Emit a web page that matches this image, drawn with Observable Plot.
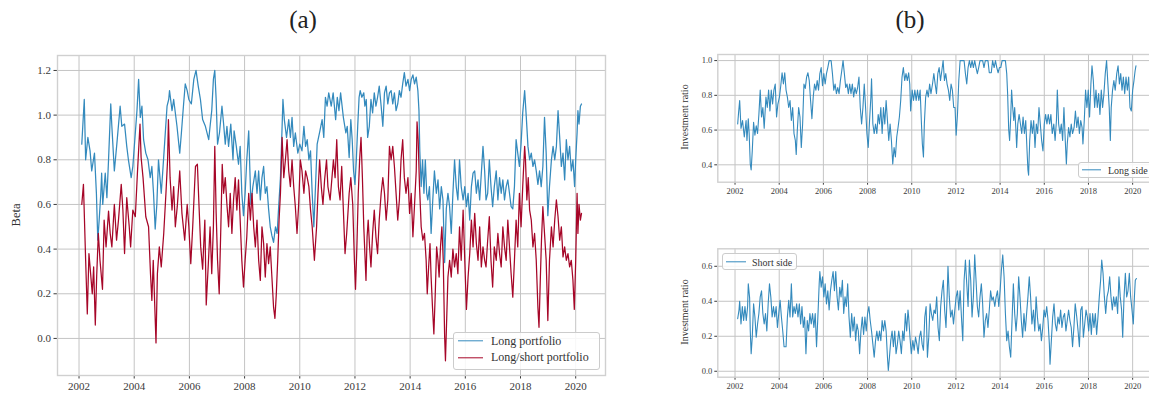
<!DOCTYPE html>
<html>
<head>
<meta charset="utf-8">
<script src="https://cdn.jsdelivr.net/npm/d3@7"></script>
<script src="https://cdn.jsdelivr.net/npm/@observablehq/plot@0.6"></script>
<style>
  html, body { margin: 0; padding: 0; background: #fff; }
  body { width: 1149px; height: 394px; overflow: hidden; position: relative; font-family: "Liberation Serif", serif; color: #333; }
  .abs { position: absolute; }
  .title { font-size: 25px; transform: translate(-50%, -50%); white-space: nowrap; color: #222; }
  .ylab { transform: translate(-50%, -50%) rotate(-90deg); white-space: nowrap; }
  .legend { border: 1px solid #cccccc; border-radius: 3px; background: rgba(255,255,255,0.85); box-sizing: border-box; }
  .swatch { height: 1.4px; transform: translateY(-50%); }
  .ltext { white-space: nowrap; transform: translateY(-50%); }
</style>
</head>
<body>
<div class="abs title" style="left:303px; top:20px;">(a)</div>
<div class="abs title" style="left:910px; top:20px;">(b)</div>
<div id="pa"></div>
<div id="pb1"></div>
<div id="pb2"></div>
<div class="abs ylab" style="left:16px; top:215px; font-size:12.5px;">Beta</div>
<div class="abs ylab" style="left:684px; top:117px; font-size:10px;">Investment ratio</div>
<div class="abs ylab" style="left:684px; top:312px; font-size:10px;">Investment ratio</div>

<div class="abs legend" style="left:453px; top:332px; width:147px; height:38px;"></div>
<div class="abs swatch" style="left:458px; top:341px; width:25px; background:#348ABD;"></div>
<div class="abs ltext" style="left:491px; top:341px; font-size:12px;">Long portfolio</div>
<div class="abs swatch" style="left:458px; top:357.5px; width:25px; background:#A60628;"></div>
<div class="abs ltext" style="left:491px; top:357px; font-size:12px;">Long/short portfolio</div>

<div class="abs legend" style="left:1078px; top:162px; width:76px; height:16px;"></div>
<div class="abs swatch" style="left:1082px; top:169.5px; width:19px; background:#348ABD;"></div>
<div class="abs ltext" style="left:1108px; top:169.5px; font-size:10px;">Long side</div>

<div class="abs legend" style="left:722px; top:253px; width:75px; height:17px;"></div>
<div class="abs swatch" style="left:726px; top:261.5px; width:20px; background:#348ABD;"></div>
<div class="abs ltext" style="left:752px; top:261.5px; font-size:10px;">Short side</div>

<script>
// ---------- data ----------
const xTicks = [2002, 2004, 2006, 2008, 2010, 2012, 2014, 2016, 2018, 2020];
const betaTicks = [0, 0.2, 0.4, 0.6, 0.8, 1.0, 1.2];
const longSideTicks = [0.4, 0.6, 0.8, 1.0];
const shortSideTicks = [0, 0.2, 0.4, 0.6];

// (a) Beta of the long portfolio: [year, beta]
const longPortfolio = [[2002.10,0.87],[2002.19,1.07],[2002.24,0.80],[2002.32,0.90],[2002.40,0.84],[2002.46,0.75],[2002.56,0.83],[2002.63,0.65],[2002.68,0.44],[2002.73,0.53],[2002.79,0.65],[2002.82,0.74],[2002.86,0.60],[2002.95,0.74],[2003.01,0.63],[2003.07,0.80],[2003.15,1.05],[2003.19,0.95],[2003.28,0.75],[2003.37,0.87],[2003.49,1.04],[2003.55,0.95],[2003.65,0.96],[2003.73,0.86],[2003.79,0.80],[2003.89,0.72],[2003.95,0.77],[2004.04,0.92],[2004.10,1.02],[2004.16,1.16],[2004.22,0.99],[2004.28,1.04],[2004.34,0.89],[2004.42,0.83],[2004.50,0.80],[2004.58,0.72],[2004.64,0.77],[2004.70,0.65],[2004.76,0.49],[2004.82,0.60],[2004.88,0.80],[2004.98,0.65],[2005.03,0.74],[2005.10,0.87],[2005.19,1.04],[2005.25,1.07],[2005.28,1.11],[2005.37,1.02],[2005.43,1.07],[2005.55,0.95],[2005.65,0.83],[2005.71,0.92],[2005.79,1.05],[2005.85,1.14],[2005.92,1.11],[2005.98,1.07],[2006.07,1.05],[2006.16,1.16],[2006.24,1.20],[2006.32,1.13],[2006.40,1.07],[2006.48,0.98],[2006.58,0.95],[2006.70,0.89],[2006.75,0.95],[2006.81,1.02],[2006.87,1.16],[2006.92,1.20],[2006.97,1.07],[2007.02,0.87],[2007.09,0.92],[2007.18,1.04],[2007.24,0.96],[2007.30,0.87],[2007.36,0.95],[2007.42,0.86],[2007.50,0.96],[2007.58,0.80],[2007.62,0.93],[2007.70,0.86],[2007.78,0.78],[2007.84,0.86],[2007.90,0.65],[2007.96,0.55],[2008.02,0.65],[2008.08,0.80],[2008.15,0.93],[2008.18,0.80],[2008.23,0.60],[2008.30,0.68],[2008.39,0.75],[2008.45,0.65],[2008.51,0.75],[2008.57,0.62],[2008.63,0.72],[2008.69,0.77],[2008.75,0.65],[2008.81,0.68],[2008.87,0.58],[2008.93,0.50],[2008.99,0.46],[2009.05,0.43],[2009.12,0.50],[2009.18,0.47],[2009.24,0.60],[2009.30,0.72],[2009.36,0.95],[2009.39,1.07],[2009.44,0.98],[2009.52,0.90],[2009.60,0.98],[2009.66,0.90],[2009.72,0.99],[2009.78,0.86],[2009.84,0.92],[2009.93,0.83],[2010.00,0.87],[2010.08,0.84],[2010.15,0.95],[2010.21,0.86],[2010.27,0.89],[2010.33,0.80],[2010.39,0.84],[2010.45,0.65],[2010.51,0.50],[2010.57,0.68],[2010.63,0.87],[2010.73,0.93],[2010.81,0.98],[2010.87,0.90],[2010.93,1.08],[2010.99,1.04],[2011.05,1.10],[2011.14,1.04],[2011.21,1.10],[2011.30,0.98],[2011.36,1.08],[2011.42,1.02],[2011.48,1.10],[2011.58,0.99],[2011.67,0.92],[2011.72,0.95],[2011.79,0.81],[2011.85,0.98],[2011.90,0.89],[2011.95,0.75],[2012.00,0.69],[2012.05,0.80],[2012.10,0.95],[2012.15,1.08],[2012.19,1.11],[2012.25,1.08],[2012.32,1.10],[2012.36,1.04],[2012.41,1.07],[2012.46,0.90],[2012.52,0.95],[2012.58,1.07],[2012.64,1.01],[2012.70,1.10],[2012.76,1.04],[2012.82,1.08],[2012.88,1.13],[2012.95,1.04],[2013.01,0.95],[2013.07,1.10],[2013.13,1.13],[2013.19,1.05],[2013.25,1.10],[2013.31,1.11],[2013.37,1.05],[2013.43,1.10],[2013.49,1.02],[2013.55,1.05],[2013.61,1.11],[2013.67,1.08],[2013.73,1.14],[2013.79,1.19],[2013.85,1.13],[2013.92,1.16],[2013.98,1.11],[2014.04,1.16],[2014.10,1.18],[2014.16,1.14],[2014.22,1.17],[2014.28,1.11],[2014.32,1.02],[2014.35,0.84],[2014.40,0.68],[2014.45,0.80],[2014.50,0.65],[2014.55,0.80],[2014.60,0.65],[2014.64,0.62],[2014.70,0.68],[2014.76,0.47],[2014.82,0.62],[2014.88,0.75],[2014.95,0.65],[2015.01,0.71],[2015.07,0.58],[2015.13,0.68],[2015.19,0.62],[2015.25,0.34],[2015.31,0.58],[2015.37,0.65],[2015.43,0.59],[2015.49,0.47],[2015.55,0.65],[2015.61,0.80],[2015.67,0.68],[2015.73,0.62],[2015.79,0.80],[2015.85,0.68],[2015.92,0.62],[2015.98,0.68],[2016.04,0.59],[2016.10,0.65],[2016.16,0.53],[2016.22,0.68],[2016.28,0.74],[2016.34,0.75],[2016.40,0.65],[2016.46,0.71],[2016.52,0.62],[2016.58,0.74],[2016.64,0.86],[2016.70,0.75],[2016.75,0.62],[2016.81,0.65],[2016.87,0.80],[2016.93,0.68],[2016.99,0.59],[2017.05,0.68],[2017.12,0.75],[2017.18,0.62],[2017.24,0.72],[2017.30,0.65],[2017.36,0.71],[2017.42,0.62],[2017.48,0.68],[2017.54,0.71],[2017.60,0.65],[2017.66,0.59],[2017.72,0.58],[2017.78,0.68],[2017.84,0.89],[2017.90,0.83],[2017.96,0.77],[2018.02,0.87],[2018.08,1.01],[2018.15,1.11],[2018.21,0.99],[2018.27,0.86],[2018.33,0.80],[2018.39,0.83],[2018.45,0.77],[2018.51,0.80],[2018.57,0.75],[2018.63,0.69],[2018.69,0.75],[2018.75,0.68],[2018.81,0.77],[2018.87,0.99],[2018.93,0.83],[2018.99,0.55],[2019.05,0.68],[2019.12,0.80],[2019.18,0.86],[2019.24,0.80],[2019.30,0.86],[2019.36,1.02],[2019.42,0.90],[2019.48,0.77],[2019.54,0.83],[2019.60,0.71],[2019.66,0.89],[2019.72,0.80],[2019.78,0.86],[2019.84,0.75],[2019.90,0.80],[2019.96,0.68],[2020.00,0.80],[2020.05,0.92],[2020.08,1.02],[2020.12,0.96],[2020.17,1.04],[2020.21,1.05]];

// (a) Beta of the long/short portfolio: [year, beta]
const longShortPortfolio = [[2002.10,0.60],[2002.16,0.69],[2002.24,0.35],[2002.30,0.11],[2002.36,0.38],[2002.42,0.29],[2002.48,0.20],[2002.53,0.32],[2002.59,0.06],[2002.64,0.28],[2002.70,0.47],[2002.76,0.35],[2002.85,0.22],[2002.91,0.53],[2002.98,0.41],[2003.07,0.57],[2003.13,0.47],[2003.19,0.41],[2003.28,0.60],[2003.36,0.44],[2003.43,0.53],[2003.53,0.69],[2003.59,0.575],[2003.65,0.38],[2003.73,0.63],[2003.82,0.50],[2003.87,0.41],[2003.95,0.575],[2004.04,0.545],[2004.12,0.75],[2004.21,0.96],[2004.25,0.81],[2004.32,0.72],[2004.42,0.545],[2004.52,0.50],[2004.59,0.29],[2004.64,0.17],[2004.69,0.35],[2004.79,-0.02],[2004.84,0.29],[2004.91,0.41],[2004.98,0.32],[2005.07,0.47],[2005.15,0.65],[2005.21,0.80],[2005.24,0.98],[2005.30,0.72],[2005.37,0.575],[2005.43,0.68],[2005.49,0.50],[2005.56,0.59],[2005.65,0.75],[2005.73,0.56],[2005.83,0.44],[2005.92,0.60],[2005.98,0.50],[2006.05,0.335],[2006.12,0.50],[2006.22,0.77],[2006.29,0.78],[2006.34,0.62],[2006.41,0.41],[2006.48,0.31],[2006.56,0.53],[2006.61,0.15],[2006.68,0.32],[2006.75,0.50],[2006.81,0.29],[2006.87,0.50],[2006.92,0.86],[2006.97,0.56],[2007.02,0.35],[2007.08,0.20],[2007.14,0.50],[2007.19,0.78],[2007.24,0.65],[2007.30,0.72],[2007.36,0.60],[2007.42,0.50],[2007.48,0.65],[2007.54,0.47],[2007.60,0.62],[2007.66,0.72],[2007.72,0.575],[2007.78,0.71],[2007.84,0.53],[2007.90,0.35],[2007.96,0.23],[2008.02,0.35],[2008.08,0.455],[2008.15,0.65],[2008.21,0.53],[2008.27,0.65],[2008.33,0.50],[2008.39,0.41],[2008.45,0.53],[2008.51,0.35],[2008.57,0.26],[2008.63,0.50],[2008.69,0.425],[2008.75,0.275],[2008.81,0.425],[2008.87,0.335],[2008.93,0.41],[2008.99,0.275],[2009.05,0.14],[2009.10,0.09],[2009.15,0.20],[2009.20,0.35],[2009.25,0.53],[2009.30,0.65],[2009.36,0.90],[2009.42,0.72],[2009.48,0.80],[2009.54,0.89],[2009.60,0.75],[2009.66,0.68],[2009.72,0.80],[2009.78,0.68],[2009.84,0.59],[2009.90,0.47],[2009.96,0.60],[2010.02,0.80],[2010.08,0.75],[2010.15,0.65],[2010.21,0.75],[2010.27,0.72],[2010.33,0.68],[2010.39,0.575],[2010.45,0.50],[2010.53,0.35],[2010.61,0.50],[2010.66,0.65],[2010.72,0.80],[2010.78,0.68],[2010.84,0.60],[2010.90,0.71],[2010.97,0.80],[2011.02,0.68],[2011.10,0.62],[2011.16,0.71],[2011.22,0.80],[2011.28,0.72],[2011.34,0.89],[2011.40,0.68],[2011.46,0.62],[2011.52,0.77],[2011.58,0.575],[2011.64,0.38],[2011.70,0.47],[2011.79,0.65],[2011.85,0.72],[2011.92,0.60],[2011.98,0.35],[2012.02,0.22],[2012.07,0.41],[2012.12,0.65],[2012.17,0.80],[2012.22,0.90],[2012.27,0.72],[2012.32,0.50],[2012.36,0.38],[2012.40,0.26],[2012.44,0.455],[2012.48,0.53],[2012.53,0.41],[2012.58,0.32],[2012.64,0.47],[2012.70,0.575],[2012.76,0.455],[2012.82,0.38],[2012.88,0.53],[2012.95,0.65],[2013.01,0.72],[2013.07,0.65],[2013.13,0.53],[2013.19,0.62],[2013.25,0.86],[2013.31,0.80],[2013.37,0.86],[2013.43,0.77],[2013.49,0.65],[2013.55,0.53],[2013.61,0.62],[2013.67,0.80],[2013.73,0.89],[2013.79,0.72],[2013.85,0.65],[2013.92,0.72],[2013.98,0.56],[2014.04,0.65],[2014.10,0.455],[2014.16,0.60],[2014.22,0.75],[2014.25,0.97],[2014.29,0.89],[2014.34,0.68],[2014.40,0.50],[2014.46,0.44],[2014.52,0.47],[2014.58,0.35],[2014.62,0.20],[2014.67,0.32],[2014.72,0.425],[2014.76,0.275],[2014.81,0.14],[2014.86,0.02],[2014.91,0.20],[2014.96,0.41],[2015.01,0.35],[2015.05,0.275],[2015.10,0.41],[2015.15,0.50],[2015.20,0.35],[2015.25,0.01],[2015.28,-0.10],[2015.33,0.11],[2015.37,0.275],[2015.43,0.35],[2015.49,0.275],[2015.55,0.40],[2015.61,0.32],[2015.67,0.38],[2015.73,0.29],[2015.79,0.50],[2015.85,0.35],[2015.92,0.575],[2015.98,0.35],[2016.04,0.13],[2016.10,0.275],[2016.16,0.38],[2016.22,0.53],[2016.28,0.41],[2016.34,0.56],[2016.40,0.425],[2016.46,0.35],[2016.52,0.50],[2016.58,0.32],[2016.64,0.41],[2016.70,0.35],[2016.75,0.32],[2016.81,0.44],[2016.87,0.545],[2016.93,0.35],[2016.99,0.23],[2017.05,0.41],[2017.12,0.35],[2017.18,0.47],[2017.24,0.38],[2017.30,0.32],[2017.36,0.50],[2017.42,0.41],[2017.48,0.35],[2017.54,0.53],[2017.60,0.41],[2017.66,0.29],[2017.72,0.185],[2017.78,0.35],[2017.84,0.53],[2017.90,0.41],[2017.96,0.65],[2018.02,0.50],[2018.08,0.68],[2018.15,0.86],[2018.18,0.80],[2018.23,0.62],[2018.28,0.72],[2018.33,0.575],[2018.39,0.53],[2018.45,0.41],[2018.51,0.47],[2018.57,0.35],[2018.63,0.14],[2018.67,0.05],[2018.72,0.275],[2018.76,0.44],[2018.81,0.59],[2018.87,0.47],[2018.93,0.35],[2018.99,0.08],[2019.05,0.35],[2019.12,0.50],[2019.18,0.41],[2019.24,0.53],[2019.30,0.62],[2019.36,0.545],[2019.42,0.44],[2019.48,0.50],[2019.54,0.365],[2019.60,0.41],[2019.66,0.35],[2019.72,0.38],[2019.78,0.32],[2019.84,0.35],[2019.90,0.26],[2019.95,0.13],[2020.00,0.35],[2020.05,0.65],[2020.08,0.47],[2020.12,0.60],[2020.17,0.53],[2020.21,0.56]];

// (b) Investment ratio, long side: [year, ratio]
const longSide = [[2002.12,0.635],[2002.16,0.70],[2002.21,0.77],[2002.27,0.61],[2002.34,0.655],[2002.42,0.56],[2002.50,0.655],[2002.54,0.54],[2002.60,0.665],[2002.64,0.58],[2002.69,0.405],[2002.73,0.37],[2002.78,0.48],[2002.84,0.645],[2002.90,0.57],[2002.96,0.625],[2003.02,0.58],[2003.08,0.69],[2003.14,0.83],[2003.20,0.675],[2003.26,0.73],[2003.32,0.61],[2003.40,0.79],[2003.46,0.73],[2003.52,0.83],[2003.58,0.71],[2003.64,0.83],[2003.70,0.75],[2003.76,0.83],[2003.82,0.865],[2003.88,0.675],[2003.94,0.75],[2004.01,0.79],[2004.07,0.855],[2004.13,0.93],[2004.19,0.865],[2004.25,0.93],[2004.31,0.83],[2004.37,0.79],[2004.43,0.73],[2004.49,0.77],[2004.55,0.655],[2004.61,0.73],[2004.67,0.58],[2004.73,0.54],[2004.77,0.46],[2004.82,0.60],[2004.88,0.73],[2004.94,0.675],[2005.00,0.50],[2005.06,0.635],[2005.12,0.865],[2005.18,0.84],[2005.24,0.905],[2005.30,0.93],[2005.36,0.885],[2005.42,0.77],[2005.48,0.665],[2005.54,0.79],[2005.60,0.865],[2005.66,0.83],[2005.72,0.885],[2005.78,0.83],[2005.84,0.925],[2005.90,0.96],[2005.96,0.855],[2006.02,0.925],[2006.08,0.865],[2006.14,0.925],[2006.20,0.96],[2006.26,1.0],[2006.35,1.0],[2006.41,0.925],[2006.47,0.83],[2006.53,0.865],[2006.59,0.81],[2006.65,0.845],[2006.71,0.81],[2006.77,0.885],[2006.83,0.94],[2006.89,1.0],[2006.95,0.925],[2007.01,0.845],[2007.07,0.865],[2007.13,0.81],[2007.19,0.865],[2007.25,0.81],[2007.31,0.865],[2007.37,0.79],[2007.43,0.845],[2007.49,0.81],[2007.55,0.845],[2007.61,0.905],[2007.67,0.73],[2007.73,0.635],[2007.79,0.73],[2007.85,0.865],[2007.91,0.73],[2007.97,0.58],[2008.03,0.50],[2008.09,0.655],[2008.15,0.79],[2008.18,0.895],[2008.24,0.635],[2008.30,0.58],[2008.36,0.635],[2008.42,0.58],[2008.48,0.69],[2008.54,0.635],[2008.60,0.73],[2008.66,0.58],[2008.72,0.73],[2008.78,0.635],[2008.84,0.77],[2008.90,0.655],[2008.96,0.54],[2009.02,0.635],[2009.08,0.54],[2009.14,0.405],[2009.20,0.50],[2009.26,0.445],[2009.32,0.56],[2009.38,0.615],[2009.44,0.675],[2009.50,0.77],[2009.56,0.905],[2009.62,0.96],[2009.68,0.885],[2009.74,0.925],[2009.80,0.885],[2009.86,0.93],[2009.91,0.865],[2009.95,0.71],[2010.02,0.83],[2010.08,0.77],[2010.14,0.83],[2010.20,0.77],[2010.26,0.83],[2010.32,0.77],[2010.38,0.83],[2010.44,0.635],[2010.48,0.52],[2010.53,0.445],[2010.57,0.635],[2010.63,0.79],[2010.69,0.83],[2010.75,0.79],[2010.81,0.865],[2010.87,0.81],[2010.94,0.865],[2011.00,0.925],[2011.06,0.865],[2011.12,0.81],[2011.18,0.925],[2011.24,0.96],[2011.30,0.885],[2011.36,0.94],[2011.42,1.0],[2011.48,0.885],[2011.54,0.925],[2011.60,0.865],[2011.66,0.83],[2011.72,0.77],[2011.78,0.865],[2011.84,0.83],[2011.90,0.73],[2011.96,0.73],[2012.01,0.57],[2012.07,0.69],[2012.13,0.885],[2012.19,1.0],[2012.37,1.0],[2012.43,0.925],[2012.49,0.865],[2012.55,0.96],[2012.61,1.0],[2012.67,0.96],[2012.73,1.0],[2012.79,0.96],[2012.85,1.0],[2012.91,0.96],[2012.97,0.925],[2013.03,0.96],[2013.09,1.0],[2013.21,1.0],[2013.27,0.96],[2013.33,1.0],[2013.45,1.0],[2013.51,0.93],[2013.60,0.93],[2013.66,1.0],[2013.73,0.96],[2013.79,1.0],[2013.85,0.96],[2013.91,0.93],[2013.97,0.96],[2014.03,0.96],[2014.09,1.0],[2014.24,1.0],[2014.30,0.925],[2014.34,0.81],[2014.39,0.60],[2014.43,0.54],[2014.48,0.675],[2014.52,0.83],[2014.57,0.73],[2014.62,0.655],[2014.66,0.73],[2014.71,0.615],[2014.75,0.50],[2014.80,0.635],[2014.86,0.69],[2014.92,0.635],[2014.98,0.58],[2015.04,0.675],[2015.10,0.58],[2015.16,0.655],[2015.22,0.48],[2015.26,0.37],[2015.29,0.34],[2015.34,0.54],[2015.40,0.655],[2015.46,0.58],[2015.52,0.655],[2015.58,0.50],[2015.64,0.635],[2015.70,0.58],[2015.76,0.73],[2015.82,0.635],[2015.88,0.54],[2015.94,0.48],[2016.00,0.635],[2016.06,0.69],[2016.12,0.635],[2016.18,0.69],[2016.24,0.635],[2016.30,0.69],[2016.36,0.58],[2016.43,0.635],[2016.49,0.54],[2016.55,0.655],[2016.59,0.83],[2016.65,0.635],[2016.71,0.58],[2016.77,0.635],[2016.83,0.54],[2016.89,0.73],[2016.95,0.54],[2017.00,0.405],[2017.04,0.52],[2017.10,0.615],[2017.16,0.56],[2017.22,0.635],[2017.28,0.58],[2017.35,0.615],[2017.41,0.71],[2017.47,0.615],[2017.53,0.675],[2017.59,0.58],[2017.65,0.655],[2017.71,0.615],[2017.75,0.52],[2017.81,0.655],[2017.87,0.83],[2017.93,0.73],[2017.99,0.83],[2018.05,0.675],[2018.11,0.865],[2018.16,0.97],[2018.22,0.885],[2018.28,0.73],[2018.34,0.83],[2018.40,0.73],[2018.46,0.81],[2018.52,0.69],[2018.58,0.83],[2018.64,0.73],[2018.70,0.81],[2018.76,0.925],[2018.82,1.0],[2018.88,0.865],[2018.94,0.73],[2018.99,0.54],[2019.03,0.73],[2019.09,0.83],[2019.15,0.885],[2019.21,0.83],[2019.28,0.925],[2019.34,0.97],[2019.40,0.865],[2019.46,0.925],[2019.52,0.83],[2019.58,0.905],[2019.64,0.81],[2019.70,0.905],[2019.76,0.83],[2019.82,0.905],[2019.88,0.73],[2019.94,0.71],[2020.00,0.83],[2020.06,0.885],[2020.11,0.94],[2020.15,0.97]];

// (b) Investment ratio, short side: [year, ratio]
const shortSide = [[2002.12,0.30],[2002.18,0.35],[2002.21,0.40],[2002.27,0.27],[2002.33,0.37],[2002.39,0.29],[2002.45,0.37],[2002.51,0.29],[2002.57,0.37],[2002.60,0.50],[2002.66,0.42],[2002.69,0.23],[2002.73,0.10],[2002.78,0.195],[2002.84,0.385],[2002.90,0.31],[2002.96,0.195],[2003.02,0.27],[2003.08,0.33],[2003.14,0.425],[2003.20,0.46],[2003.26,0.33],[2003.32,0.27],[2003.38,0.33],[2003.44,0.23],[2003.50,0.385],[2003.56,0.50],[2003.62,0.425],[2003.68,0.31],[2003.74,0.37],[2003.80,0.31],[2003.86,0.37],[2003.92,0.25],[2003.98,0.33],[2004.04,0.405],[2004.10,0.31],[2004.16,0.23],[2004.22,0.14],[2004.31,0.14],[2004.37,0.31],[2004.43,0.405],[2004.49,0.31],[2004.55,0.50],[2004.61,0.31],[2004.67,0.37],[2004.73,0.33],[2004.79,0.385],[2004.85,0.31],[2004.91,0.385],[2004.97,0.27],[2005.03,0.37],[2005.09,0.25],[2005.15,0.31],[2005.21,0.10],[2005.27,0.29],[2005.33,0.23],[2005.39,0.33],[2005.45,0.27],[2005.51,0.33],[2005.57,0.25],[2005.63,0.33],[2005.69,0.14],[2005.75,0.31],[2005.81,0.50],[2005.84,0.57],[2005.90,0.48],[2005.96,0.54],[2006.02,0.425],[2006.08,0.50],[2006.14,0.385],[2006.20,0.46],[2006.26,0.35],[2006.32,0.46],[2006.38,0.52],[2006.44,0.57],[2006.50,0.46],[2006.56,0.57],[2006.62,0.425],[2006.68,0.35],[2006.74,0.48],[2006.80,0.425],[2006.86,0.52],[2006.92,0.33],[2006.98,0.425],[2007.04,0.37],[2007.10,0.50],[2007.16,0.31],[2007.22,0.195],[2007.28,0.33],[2007.34,0.23],[2007.40,0.31],[2007.46,0.175],[2007.52,0.27],[2007.58,0.23],[2007.64,0.10],[2007.70,0.23],[2007.76,0.31],[2007.82,0.21],[2007.88,0.31],[2007.94,0.23],[2008.00,0.33],[2008.06,0.37],[2008.12,0.29],[2008.18,0.23],[2008.24,0.155],[2008.30,0.08],[2008.36,0.175],[2008.42,0.23],[2008.48,0.175],[2008.54,0.23],[2008.60,0.175],[2008.66,0.29],[2008.72,0.23],[2008.78,0.29],[2008.84,0.23],[2008.90,0.08],[2008.94,0.005],[2008.99,0.08],[2009.05,0.175],[2009.11,0.23],[2009.17,0.14],[2009.23,0.23],[2009.29,0.10],[2009.35,0.155],[2009.41,0.23],[2009.47,0.175],[2009.53,0.10],[2009.59,0.23],[2009.65,0.175],[2009.71,0.33],[2009.77,0.23],[2009.83,0.35],[2009.86,0.31],[2009.92,0.195],[2009.98,0.10],[2010.05,0.175],[2010.11,0.12],[2010.17,0.195],[2010.23,0.155],[2010.29,0.10],[2010.35,0.195],[2010.41,0.23],[2010.47,0.155],[2010.53,0.12],[2010.59,0.31],[2010.65,0.37],[2010.71,0.08],[2010.77,0.195],[2010.83,0.385],[2010.89,0.33],[2010.95,0.29],[2011.01,0.35],[2011.07,0.33],[2011.13,0.425],[2011.19,0.25],[2011.25,0.175],[2011.31,0.37],[2011.37,0.46],[2011.43,0.52],[2011.49,0.35],[2011.55,0.25],[2011.61,0.46],[2011.64,0.60],[2011.70,0.425],[2011.76,0.31],[2011.83,0.35],[2011.89,0.27],[2011.95,0.35],[2012.01,0.425],[2012.07,0.46],[2012.13,0.35],[2012.19,0.46],[2012.25,0.31],[2012.31,0.175],[2012.37,0.52],[2012.43,0.635],[2012.49,0.50],[2012.55,0.37],[2012.61,0.635],[2012.67,0.52],[2012.73,0.31],[2012.79,0.425],[2012.85,0.665],[2012.91,0.52],[2012.97,0.37],[2013.03,0.31],[2013.09,0.425],[2013.15,0.50],[2013.21,0.385],[2013.27,0.195],[2013.33,0.29],[2013.39,0.33],[2013.45,0.25],[2013.51,0.35],[2013.57,0.46],[2013.63,0.405],[2013.69,0.425],[2013.76,0.37],[2013.82,0.425],[2013.88,0.46],[2013.94,0.37],[2014.00,0.46],[2014.06,0.58],[2014.12,0.665],[2014.18,0.54],[2014.24,0.33],[2014.30,0.175],[2014.36,0.23],[2014.42,0.14],[2014.48,0.08],[2014.54,0.29],[2014.60,0.50],[2014.66,0.33],[2014.72,0.23],[2014.78,0.33],[2014.84,0.54],[2014.90,0.425],[2014.96,0.29],[2015.02,0.195],[2015.08,0.33],[2015.14,0.23],[2015.20,0.33],[2015.26,0.425],[2015.32,0.54],[2015.38,0.425],[2015.44,0.27],[2015.51,0.35],[2015.57,0.23],[2015.63,0.425],[2015.69,0.31],[2015.75,0.23],[2015.81,0.27],[2015.87,0.175],[2015.93,0.25],[2015.99,0.35],[2016.05,0.31],[2016.11,0.37],[2016.17,0.29],[2016.23,0.155],[2016.26,0.04],[2016.32,0.175],[2016.38,0.31],[2016.44,0.385],[2016.50,0.27],[2016.56,0.23],[2016.62,0.31],[2016.68,0.27],[2016.74,0.35],[2016.80,0.25],[2016.86,0.31],[2016.92,0.33],[2016.98,0.23],[2017.04,0.29],[2017.10,0.35],[2017.16,0.29],[2017.22,0.25],[2017.28,0.14],[2017.34,0.25],[2017.40,0.385],[2017.47,0.31],[2017.53,0.23],[2017.59,0.14],[2017.65,0.35],[2017.71,0.37],[2017.77,0.195],[2017.83,0.27],[2017.89,0.35],[2017.95,0.31],[2018.01,0.23],[2018.07,0.33],[2018.13,0.21],[2018.19,0.33],[2018.25,0.25],[2018.31,0.33],[2018.37,0.21],[2018.43,0.31],[2018.49,0.425],[2018.55,0.52],[2018.60,0.635],[2018.66,0.56],[2018.72,0.425],[2018.78,0.33],[2018.84,0.425],[2018.90,0.46],[2018.96,0.54],[2019.02,0.425],[2019.08,0.35],[2019.14,0.425],[2019.20,0.37],[2019.26,0.425],[2019.32,0.33],[2019.38,0.54],[2019.44,0.425],[2019.50,0.35],[2019.55,0.195],[2019.61,0.425],[2019.67,0.56],[2019.73,0.425],[2019.79,0.46],[2019.85,0.56],[2019.91,0.425],[2019.97,0.35],[2020.03,0.27],[2020.08,0.425],[2020.12,0.52],[2020.17,0.53]];

// ---------- drawing ----------
const BLUE = "#348ABD", RED = "#A60628";
const GRID = "#c4c4c4", FRAME = "#d0d0d0";
const xDomain = [2001.22, 2021.08];

function panel(id, o) {
  const marks = [
    Plot.ruleX(xTicks, {stroke: GRID, strokeWidth: 1}),
    Plot.ruleY(o.yTicks, {stroke: GRID, strokeWidth: 1}),
    Plot.frame({stroke: FRAME, strokeWidth: 1.4}),
    ...o.series.map(s => Plot.line(s.data, {x: d => d[0], y: d => d[1], stroke: s.color, strokeWidth: o.lw}))
  ];
  const chart = Plot.plot({
    width: o.width, height: o.height,
    marginLeft: o.ml, marginRight: o.mr, marginTop: o.mt, marginBottom: o.mb,
    style: {fontFamily: "Liberation Serif, serif", fontSize: o.fs + "px", color: "#3a3a3a", background: "none", overflow: "visible"},
    x: {type: "linear", domain: xDomain, ticks: xTicks, tickFormat: d => String(d), tickSize: o.ts, tickPadding: o.tp, label: null},
    y: {type: "linear", domain: o.yDomain, ticks: o.yTicks, tickFormat: d => d.toFixed(1), tickSize: o.ts, tickPadding: o.tp, label: null},
    marks
  });
  chart.style.position = "absolute";
  chart.style.left = o.left + "px";
  chart.style.top = o.top + "px";
  document.getElementById(id).appendChild(chart);
}

panel("pa", {
  left: 0, top: 0, width: 620, height: 394,
  ml: 57, mr: 15, mt: 55, mb: 19, lw: 1.25,
  yDomain: [-0.166, 1.267], yTicks: betaTicks, fs: 11, ts: 3.5, tp: 3,
  series: [{data: longPortfolio, color: BLUE}, {data: longShortPortfolio, color: RED}]
});

panel("pb1", {
  left: 640, top: 0, width: 520, height: 200,
  ml: 77.3, mr: 4, mt: 54, mb: 18.3, lw: 1.1,
  yDomain: [0.30, 1.035], yTicks: longSideTicks, fs: 8.5, ts: 3, tp: 2.5,
  series: [{data: longSide, color: BLUE}]
});

panel("pb2", {
  left: 640, top: 230, width: 520, height: 164,
  ml: 77.3, mr: 4, mt: 18.3, mb: 17.3, lw: 1.1,
  yDomain: [-0.034, 0.70], yTicks: shortSideTicks, fs: 8.5, ts: 3, tp: 2.5,
  series: [{data: shortSide, color: BLUE}]
});
</script>
</body>
</html>
